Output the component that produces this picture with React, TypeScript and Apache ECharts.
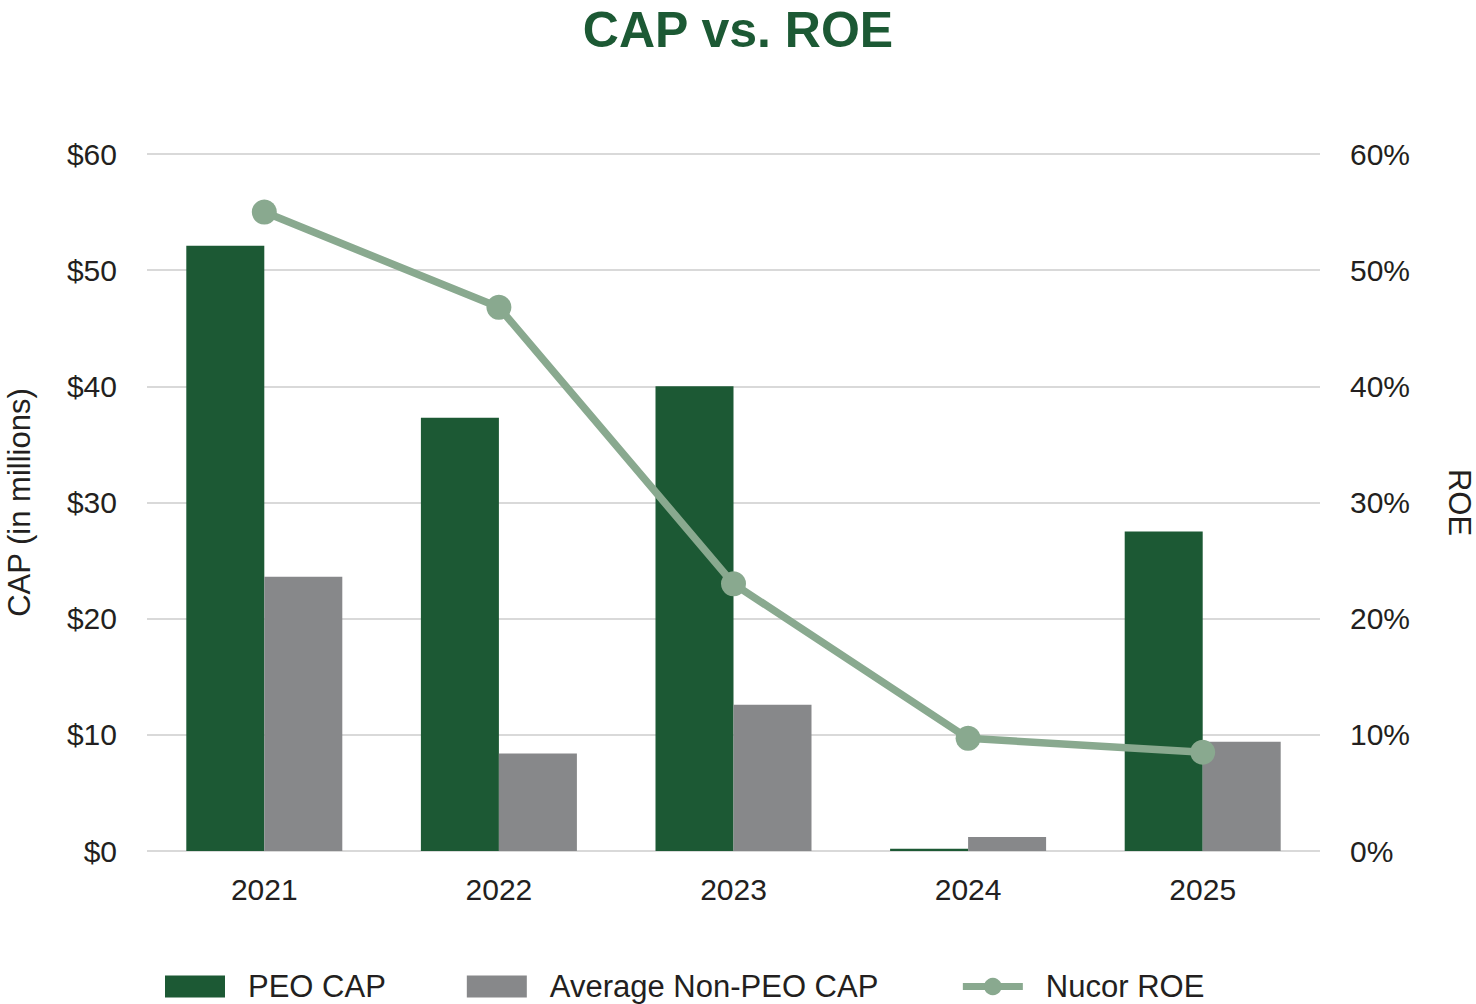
import { useEffect, useRef } from 'react'
import * as echarts from 'echarts'

const YEARS = ['2021', '2022', '2023', '2024', '2025']
const PEO_CAP = [52.1, 37.3, 40.0, 0.2, 27.5]
const NON_PEO_CAP = [23.6, 8.4, 12.6, 1.2, 9.4]
const NUCOR_ROE = [55.0, 46.8, 23.0, 9.7, 8.5]

const GREEN = '#1c5934'
const GREY = '#87888a'
const SAGE = '#89a98f'
const TEXT = '#231f20'
const FONT = 'Liberation Sans, Arial, sans-serif'

document.body.style.margin = '0'
document.body.style.overflow = 'hidden'

export default function App() {
  const ref = useRef<HTMLDivElement | null>(null)

  useEffect(() => {
    if (!ref.current) return
    const chart = echarts.init(ref.current, null, { renderer: 'svg', width: 1476, height: 1004 })
    chart.setOption({
      animation: false,
      textStyle: { fontFamily: FONT, color: TEXT },
      title: {
        text: 'CAP vs. ROE',
        left: 'center',
        top: 0,
        textStyle: { fontSize: 50, fontWeight: 'bold', color: GREEN, fontFamily: FONT },
      },
      legend: {
        left: 160,
        top: 966,
        itemWidth: 60,
        itemHeight: 22,
        itemGap: 81,
        textStyle: { fontSize: 31, color: TEXT, padding: [0, 0, 0, 18] },
        lineStyle: { width: 7 },
        data: [
          { name: 'PEO CAP', icon: 'rect' },
          { name: 'Average Non-PEO CAP', icon: 'rect' },
          { name: 'Nucor ROE' },
        ],
      },
      grid: { left: 147, right: 156, top: 154, bottom: 153, outerBoundsMode: 'none', containLabel: false },
      xAxis: {
        type: 'category',
        data: YEARS,
        axisLine: { show: false },
        axisTick: { show: false },
        axisLabel: { fontSize: 30, color: TEXT, margin: 23 },
      },
      yAxis: [
        {
          type: 'value',
          min: 0,
          max: 60,
          interval: 10,
          name: 'CAP (in millions)',
          nameLocation: 'middle',
          nameGap: 112,
          nameTextStyle: { fontSize: 31, color: TEXT },
          axisLabel: { fontSize: 30, color: TEXT, margin: 30, formatter: (v: number) => '$' + v },
          splitLine: { lineStyle: { color: '#d9d9d9', width: 2 } },
        },
        {
          type: 'value',
          min: 0,
          max: 60,
          interval: 10,
          name: 'ROE',
          nameLocation: 'middle',
          nameGap: 124,
          nameRotate: -90,
          nameTextStyle: { fontSize: 31, color: TEXT },
          axisLabel: { fontSize: 30, color: TEXT, margin: 30, formatter: (v: number) => v + '%' },
          splitLine: { show: false },
        },
      ],
      series: [
        {
          name: 'PEO CAP',
          type: 'bar',
          data: PEO_CAP,
          barWidth: 78,
          barGap: '0%',
          itemStyle: { color: GREEN },
        },
        {
          name: 'Average Non-PEO CAP',
          type: 'bar',
          data: NON_PEO_CAP,
          barWidth: 78,
          barGap: '0%',
          itemStyle: { color: GREY },
        },
        {
          name: 'Nucor ROE',
          type: 'line',
          yAxisIndex: 1,
          data: NUCOR_ROE,
          symbol: 'circle',
          symbolSize: 25,
          lineStyle: { color: SAGE, width: 7.5 },
          itemStyle: { color: SAGE },
          z: 5,
        },
      ],
    })
    return () => chart.dispose()
  }, [])

  return (
    <div
      ref={ref}
      style={{ position: 'fixed', left: 0, top: 0, width: 1476, height: 1004, background: '#fff' }}
    />
  )
}
